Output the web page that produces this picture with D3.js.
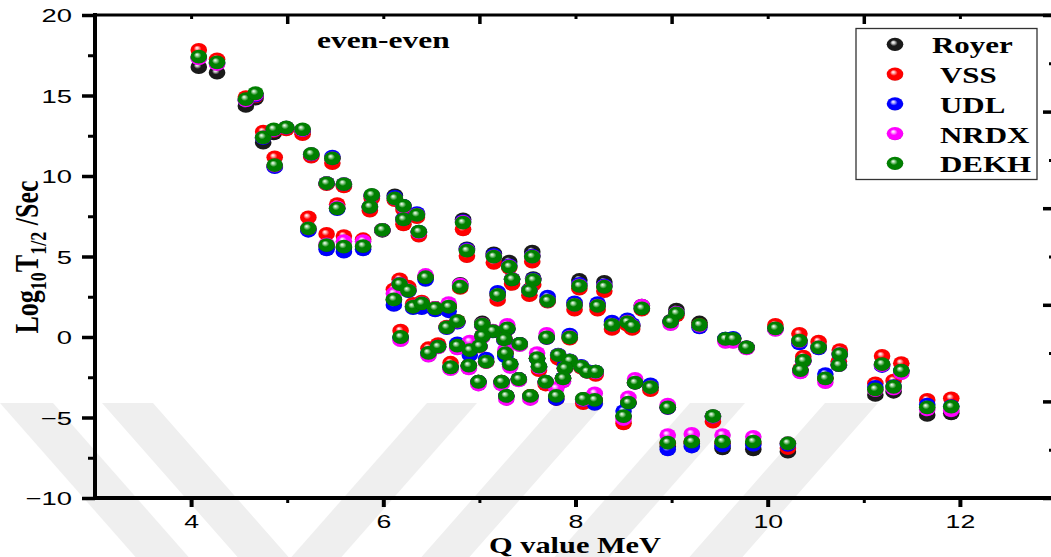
<!DOCTYPE html>
<html>
<head>
<meta charset="utf-8">
<script src="https://cdn.jsdelivr.net/npm/d3@7"></script>
<style>
  html, body { margin: 0; padding: 0; background: #ffffff; }
  svg { display: block; }
</style>
</head>
<body>
<svg id="chart" width="1051" height="557"></svg>
<script>
// Alpha-decay half-lives of even-even nuclei: log10(T1/2 / s) against Q value (MeV)
const qValue = [
  4.08, 4.27, 4.57, 4.67, 4.75, 4.86, 4.99, 5.16, 4.87, 5.25,
  5.47, 5.41, 5.59, 5.52, 5.88, 5.86, 6.12, 6.21, 6.21, 6.35,
  6.37, 5.99, 5.22, 5.41, 5.59, 5.79, 6.83, 6.87, 7.15, 7.31,
  7.55, 7.34, 7.56, 7.52, 8.04, 8.30, 7.19, 7.71, 7.99, 8.23,
  8.38, 6.80, 6.44, 8.69, 8.54, 8.59, 9.05, 8.99, 9.29, 9.56,
  9.64, 9.78, 10.08, 10.33, 10.53, 10.75, 10.74, 10.37, 10.34, 10.60,
  11.19, 11.39, 11.12, 11.31, 11.66, 11.91, 6.17, 6.26, 6.11, 6.31,
  6.40, 6.54, 6.68, 6.18, 6.66, 6.77, 7.03, 7.14, 7.29, 7.03,
  7.26, 7.42, 7.70, 7.94, 6.47, 6.57, 6.77, 6.90, 7.00, 6.70,
  6.89, 7.07, 7.27, 7.32, 7.60, 7.62, 7.82, 7.94, 7.89, 8.06,
  8.12, 8.21, 7.87, 6.99, 7.23, 7.41, 7.69, 7.28, 7.53, 7.80,
  8.08, 8.20, 8.62, 8.78, 8.55, 8.50, 8.96, 9.43, 8.96, 9.21,
  9.53, 9.85, 10.21
];

const royer = [
  16.77, 16.42, 14.35, 14.80, 12.07, 12.65, 12.95, 12.75, 10.60, 11.30,
  11.10, 9.55, 9.45, 8.00, 8.75, 8.05, 8.80, 8.15, 7.30, 7.65,
  6.50, 6.60, 6.70, 5.65, 5.55, 5.60, 7.31, 5.50, 5.20, 4.68,
  5.30, 3.60, 3.65, 2.95, 3.54, 3.42, 2.70, 2.30, 2.05, 2.00,
  0.80, 3.30, 3.70, 1.95, 0.95, 0.70, 1.70, 1.00, 0.90, -0.10,
  -0.10, -0.65, 0.55, -0.20, -0.60, -1.00, -1.70, -1.45, -2.05, -2.55,
  -1.70, -2.10, -3.60, -3.40, -4.84, -4.74, 3.35, 2.90, 2.30, 1.90,
  2.10, 1.80, 1.90, 0.00, 0.60, 0.98, 0.90, 0.37, 0.50, 0.06,
  -0.10, -0.43, 0.00, 0.00, -1.00, -0.60, -0.55, -0.80, -0.56, -1.85,
  -1.78, -1.53, -1.01, -1.68, -1.32, -1.84, -1.12, -1.47, -1.94, -1.84,
  -2.15, -2.15, -2.57, -2.78, -2.78, -2.61, -2.78, -3.66, -3.66, -3.70,
  -3.85, -3.91, -2.84, -3.12, -4.08, -4.91, -4.37, -4.91, -6.80, -6.60,
  -6.92, -6.98, -7.12
];

const vss = [
  17.83, 17.25, 14.90, 14.95, 12.75, 12.80, 12.90, 12.60, 11.16, 11.20,
  10.80, 9.50, 9.35, 8.25, 8.60, 7.85, 8.50, 7.90, 7.00, 7.45,
  6.30, 6.65, 7.43, 6.40, 6.27, 6.07, 6.69, 5.03, 4.61, 4.30,
  4.68, 3.30, 3.25, 2.60, 3.00, 2.85, 2.30, 2.20, 1.70, 1.70,
  0.50, 3.05, 3.70, 1.70, 0.75, 0.50, 1.35, 0.95, 0.75, -0.15,
  -0.10, -0.65, 0.75, 0.20, -0.29, -0.81, -1.50, -1.22, -2.00, -2.55,
  -1.18, -1.63, -2.88, -2.71, -3.91, -3.81, 3.58, 3.12, 2.96, 2.05,
  2.20, 1.80, 1.90, 0.39, 0.65, 0.98, 0.70, 0.37, 0.50, 0.06,
  -0.14, -0.43, -0.05, -0.10, -0.70, -0.45, -0.55, -0.80, -0.56, -1.60,
  -1.78, -1.55, -1.01, -1.68, -1.32, -2.05, -1.35, -1.50, -1.94, -1.90,
  -2.15, -2.35, -2.57, -2.78, -2.78, -2.61, -2.95, -3.66, -3.66, -3.85,
  -4.10, -3.95, -2.84, -3.30, -4.08, -5.36, -4.40, -5.26, -6.60, -6.50,
  -6.60, -6.60, -6.90
];

const udl = [
  17.35, 17.00, 14.70, 15.00, 12.35, 12.85, 13.00, 12.85, 10.55, 11.35,
  11.20, 9.55, 9.50, 7.95, 8.80, 8.10, 8.70, 8.15, 7.35, 7.70,
  6.55, 6.65, 6.60, 5.45, 5.30, 5.45, 7.20, 5.45, 5.10, 4.45,
  5.05, 3.60, 3.60, 2.90, 3.30, 3.20, 2.80, 2.50, 2.15, 2.10,
  0.95, 3.20, 3.55, 1.80, 1.10, 0.80, 1.50, 0.95, 0.60, -0.10,
  -0.05, -0.65, 0.50, -0.40, -0.70, -1.10, -1.75, -1.50, -2.05, -2.30,
  -1.80, -2.10, -3.10, -3.05, -4.20, -4.30, 3.30, 2.85, 1.99, 1.80,
  1.80, 1.65, 1.60, -0.05, 0.55, 0.90, 0.75, 0.35, 0.50, 0.05,
  -0.20, -0.43, -0.05, 0.15, -1.00, -0.60, -0.40, -1.12, -0.56, -1.90,
  -1.80, -1.35, -1.20, -1.70, -1.35, -1.85, -1.10, -1.45, -1.75, -1.80,
  -2.10, -2.15, -2.55, -2.78, -2.80, -2.61, -2.78, -3.66, -3.70, -3.85,
  -3.90, -4.15, -2.84, -2.95, -4.10, -4.60, -4.40, -4.95, -6.98, -6.80,
  -6.75, -6.70, -6.70
];

const nrdx = [
  17.30, 16.95, 14.70, 15.05, 12.40, 12.85, 13.00, 12.85, 10.65, 11.35,
  11.10, 9.55, 9.50, 8.05, 8.80, 8.10, 8.60, 8.10, 7.30, 7.60,
  6.50, 6.65, 6.75, 5.75, 5.95, 5.95, 7.15, 5.40, 5.00, 4.40,
  5.00, 3.60, 3.55, 2.90, 3.20, 3.15, 2.60, 2.25, 2.00, 1.95,
  0.75, 3.25, 3.85, 1.95, 0.95, 0.70, 1.50, 0.80, 0.70, -0.30,
  -0.30, -0.70, 0.45, -0.25, -0.65, -1.05, -1.75, -1.50, -2.20, -2.80,
  -1.75, -2.25, -3.30, -3.20, -4.50, -4.55, 3.30, 2.90, 2.70, 1.90,
  2.10, 1.80, 2.10, -0.20, 0.60, 0.95, 0.80, 0.40, 0.75, 0.00,
  -0.14, -0.50, 0.20, 0.00, -1.15, -0.65, -0.70, -0.29, -0.60, -2.00,
  -1.95, -1.55, -0.80, -1.85, -1.00, -1.90, -1.12, -1.47, -1.95, -1.84,
  -2.15, -2.20, -2.75, -2.95, -2.95, -2.70, -2.80, -3.85, -3.85, -3.19,
  -3.90, -3.50, -2.60, -3.12, -3.75, -5.10, -4.20, -4.95, -6.09, -6.02,
  -6.09, -6.20, -6.60
];

const dekh = [
  17.41, 17.06, 14.78, 15.14, 12.40, 12.90, 13.02, 12.90, 10.68, 11.37,
  11.10, 9.55, 9.50, 7.99, 8.82, 8.09, 8.61, 8.14, 7.31, 7.58,
  6.54, 6.65, 6.75, 5.71, 5.61, 5.65, 7.10, 5.36, 4.99, 4.37,
  4.99, 3.58, 3.54, 2.88, 3.17, 3.12, 2.61, 2.25, 1.99, 1.93,
  0.75, 3.12, 3.71, 1.78, 0.93, 0.68, 1.47, 0.95, 0.75, -0.12,
  -0.12, -0.64, 0.54, -0.23, -0.64, -1.06, -1.74, -1.47, -2.05, -2.57,
  -1.68, -2.09, -3.25, -3.09, -4.37, -4.33, 3.29, 2.88, 2.34, 1.88,
  2.09, 1.78, 1.88, 0.00, 0.60, 0.98, 0.78, 0.37, 0.53, 0.06,
  -0.14, -0.43, -0.03, -0.03, -0.99, -0.60, -0.54, -0.81, -0.56, -1.88,
  -1.78, -1.53, -1.01, -1.68, -1.32, -1.84, -1.12, -1.47, -1.94, -1.84,
  -2.15, -2.15, -2.57, -2.78, -2.78, -2.61, -2.78, -3.66, -3.66, -3.66,
  -3.85, -3.91, -2.84, -3.12, -4.08, -4.91, -4.37, -4.91, -6.56, -6.50,
  -6.50, -6.50, -6.60
];

const seriesNames = ["Royer", "VSS", "UDL", "NRDX", "DEKH"];
const xTickValues = [4, 6, 8, 10, 12];
const yTickValues = [-10, -5, 0, 5, 10, 15, 20];
const panelLabel = "even-even";
const xTitle = "Q value MeV";

// ---- styling -------------------------------------------------------------
const ballColors = [
  { hi: "#cfcfcf", base: "#1a1a1a", dark: "#000000" },
  { hi: "#ffb3b3", base: "#ff0000", dark: "#b30000" },
  { hi: "#b3b3ff", base: "#0000ff", dark: "#0000a6" },
  { hi: "#ffb3ff", base: "#ff00ff", dark: "#a800a8" },
  { hi: "#a6d9a6", base: "#008000", dark: "#004a00" }
];
const serifFont = "'Liberation Serif', 'Times New Roman', serif";
const sansFont = "'Liberation Sans', Arial, sans-serif";
const serifStretch = 1.29;
const sansStretch = 1.48;

const svg = d3.select("#chart");
svg.append("rect").attr("width", 1051).attr("height", 557).attr("fill", "#ffffff");

const x = d3.scaleLinear().domain([3, 13]).range([95, 1056]);
const y = d3.scaleLinear().domain([-10, 20]).range([498, 15]);

// shaded-sphere fills
const defs = svg.append("defs");
ballColors.forEach((c, i) => {
  const g = defs.append("radialGradient")
    .attr("id", "ball" + i)
    .attr("cx", "50%").attr("cy", "50%").attr("r", "55%")
    .attr("fx", "38%").attr("fy", "34%");
  g.append("stop").attr("offset", "0%").attr("stop-color", "#ffffff");
  g.append("stop").attr("offset", "16%").attr("stop-color", c.hi);
  g.append("stop").attr("offset", "42%").attr("stop-color", c.base);
  g.append("stop").attr("offset", "85%").attr("stop-color", c.base);
  g.append("stop").attr("offset", "100%").attr("stop-color", c.dark);
});

// faint diagonal band pattern in the lower part of the sheet
const band = svg.append("g").attr("fill", "#efefef");
const bandTop = 403, bandDrop = 170, bandRun = 0.88 * bandDrop;
[[0, 53], [102, 153]].forEach(([a, b]) => {
  band.append("path").attr("d",
    `M${a},${bandTop}L${b},${bandTop}L${b + bandRun},${bandTop + bandDrop}L${a + bandRun},${bandTop + bandDrop}Z`);
});
[[427, 477], [557, 605], [690, 745], [825, 878]].forEach(([a, b]) => {
  band.append("path").attr("d",
    `M${a},${bandTop}L${b},${bandTop}L${b - bandRun},${bandTop + bandDrop}L${a - bandRun},${bandTop + bandDrop}Z`);
});

// ---- data markers ----------------------------------------------------------
const seriesValues = [royer, vss, udl, nrdx, dekh];
seriesValues.forEach((vals, i) => {
  svg.append("g").attr("class", "series-" + seriesNames[i])
    .selectAll("ellipse")
    .data(vals.map((v, j) => ({ q: qValue[j], v })))
    .join("ellipse")
    .attr("cx", d => x(d.q))
    .attr("cy", d => y(d.v))
    .attr("rx", 8.3)
    .attr("ry", 6.9)
    .attr("fill", `url(#ball${i})`);
});

// ---- axes --------------------------------------------------------------------
function styleAxis(g) {
  g.select(".domain").remove();
  g.selectAll("line").attr("stroke", "#000");
}

// left: labelled majors, small minors
const yLeft = svg.append("g").attr("transform", "translate(95,0)")
  .call(d3.axisLeft(y).tickValues(yTickValues).tickSize(13).tickPadding(10).tickFormat(d3.format("d")));
styleAxis(yLeft);
yLeft.selectAll("line").attr("stroke-width", 3.5);
yLeft.selectAll("text")
  .attr("font-family", sansFont).attr("font-size", 18.5).attr("fill", "#000")
  .attr("x", -23 / sansStretch).attr("dy", "0.36em")
  .attr("transform", `scale(${sansStretch},1)`);
const yLeftMinor = svg.append("g").attr("transform", "translate(95,0)")
  .call(d3.axisLeft(y).tickValues([-7.5, -2.5, 2.5, 7.5, 12.5, 17.5]).tickSize(7).tickFormat(""));
styleAxis(yLeftMinor);
yLeftMinor.selectAll("line").attr("stroke-width", 3);

// bottom
const xBottom = svg.append("g").attr("transform", "translate(0,498)")
  .call(d3.axisBottom(x).tickValues(xTickValues).tickSize(9).tickFormat(d3.format("d")));
styleAxis(xBottom);
xBottom.selectAll("line").attr("stroke-width", 4);
xBottom.selectAll("text")
  .attr("font-family", sansFont).attr("font-size", 18).attr("fill", "#000")
  .attr("y", 30).attr("dy", null)
  .attr("transform", `scale(${sansStretch},1)`);
const xBottomMinor = svg.append("g").attr("transform", "translate(0,498)")
  .call(d3.axisBottom(x).tickValues([5, 7, 9, 11]).tickSize(5).tickFormat(""));
styleAxis(xBottomMinor);
xBottomMinor.selectAll("line").attr("stroke-width", 3);

// top: inward ticks
const xTop = svg.append("g").attr("transform", "translate(0,15)")
  .call(d3.axisTop(x).tickValues([5, 7, 9, 11, 13]).tickSize(-9).tickFormat(""));
styleAxis(xTop);
xTop.selectAll("line").attr("stroke-width", 3.5);
const xTopMinor = svg.append("g").attr("transform", "translate(0,15)")
  .call(d3.axisTop(x).tickValues([4, 6, 8, 10, 12]).tickSize(-4).tickFormat(""));
styleAxis(xTopMinor);
xTopMinor.selectAll("line").attr("stroke-width", 3);

// right: inward ticks on an evenly divided frame edge
const yRight = d3.scaleLinear().domain([0, 10]).range([498, 15]);
const rMajor = svg.append("g").attr("transform", "translate(1056,0)")
  .call(d3.axisRight(yRight).tickValues([0, 2, 4, 6, 8, 10]).tickSize(-13).tickFormat(""));
styleAxis(rMajor);
rMajor.selectAll("line").attr("stroke-width", 3.5);
const rMinor = svg.append("g").attr("transform", "translate(1056,0)")
  .call(d3.axisRight(yRight).tickValues([1, 3, 5, 7, 9]).tickSize(-7).tickFormat(""));
styleAxis(rMinor);
rMinor.selectAll("line").attr("stroke-width", 3);

// frame lines
const frame = svg.append("g").attr("stroke", "#000").attr("stroke-linecap", "square");
frame.append("line").attr("x1", x(3)).attr("x2", x(3)).attr("y1", y(20)).attr("y2", y(-10)).attr("stroke-width", 4);
frame.append("line").attr("x1", x(3)).attr("x2", x(13)).attr("y1", y(-10)).attr("y2", y(-10)).attr("stroke-width", 4);
frame.append("line").attr("x1", x(3)).attr("x2", x(13)).attr("y1", y(20)).attr("y2", y(20)).attr("stroke-width", 3);
frame.append("line").attr("x1", x(13)).attr("x2", x(13)).attr("y1", y(20)).attr("y2", y(-10)).attr("stroke-width", 3);

// ---- text ------------------------------------------------------------------
function stretchedText(px, py, sx, str, size, anchor) {
  return svg.append("g").attr("transform", `translate(${px},${py}) scale(${sx},1)`)
    .append("text")
    .attr("text-anchor", anchor)
    .attr("font-family", serifFont)
    .attr("font-weight", "bold")
    .attr("font-size", size)
    .attr("fill", "#000")
    .text(str);
}

stretchedText(317, 48, 1.31, panelLabel, 24, "start");
stretchedText(575, 553, 1.32, xTitle, 23, "middle");

// y title with subscripts
const yTitle = svg.append("g").attr("transform", `translate(38,257) scale(${serifStretch},1) rotate(-90)`)
  .append("text")
  .attr("text-anchor", "middle")
  .attr("font-family", serifFont)
  .attr("font-weight", "bold")
  .attr("font-size", 26)
  .attr("fill", "#000");
yTitle.append("tspan").text("Log");
yTitle.append("tspan").attr("font-size", 18).attr("dy", 6).text("10");
yTitle.append("tspan").attr("dy", -6).text("T");
yTitle.append("tspan").attr("font-size", 18).attr("dy", 6).text("1/2");
yTitle.append("tspan").attr("dy", -6).text(" /Sec");

// legend
const legend = svg.append("g");
legend.append("rect")
  .attr("x", 856).attr("y", 28.5).attr("width", 181).attr("height", 151)
  .attr("fill", "#ffffff").attr("stroke", "#333").attr("stroke-width", 1.3);
const legendRowY = d3.scalePoint().domain(seriesNames).range([44.3, 163.3]);
seriesNames.forEach((name, i) => {
  const cy = legendRowY(name);
  legend.append("ellipse").attr("cx", 895).attr("cy", cy).attr("rx", 8.3).attr("ry", 6.6)
    .attr("fill", `url(#ball${i})`);
  stretchedText(i === 0 ? 932 : 940, cy + 9, serifStretch, name, 24, "start");
});
</script>
</body>
</html>
